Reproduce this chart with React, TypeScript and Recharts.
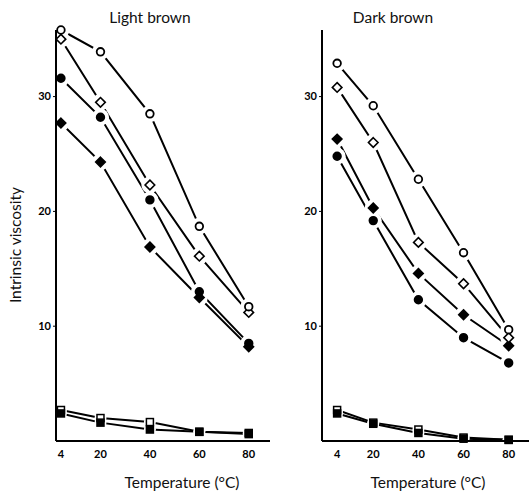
import React from 'react';
import { LineChart, Line, XAxis, YAxis } from 'recharts';

const temps = [4, 20, 40, 60, 80];
const yTicks = [10, 20, 30];

// Light brown
const lightOpenCircle = [35.8, 33.9, 28.5, 18.7, 11.7];
const lightOpenDiamond = [35.0, 29.5, 22.3, 16.1, 11.2];
const lightFilledCircle = [31.6, 28.2, 21.0, 13.0, 8.5];
const lightFilledDiamond = [27.7, 24.3, 16.9, 12.5, 8.2];
const lightOpenSquare = [2.7, 2.0, 1.65, 0.8, 0.7];
const lightFilledSquare = [2.4, 1.6, 1.0, 0.8, 0.6];

// Dark brown
const darkOpenCircle = [32.9, 29.2, 22.8, 16.4, 9.7];
const darkOpenDiamond = [30.8, 26.0, 17.3, 13.7, 9.0];
const darkFilledDiamond = [26.3, 20.3, 14.6, 11.0, 8.3];
const darkFilledCircle = [24.8, 19.2, 12.3, 9.0, 6.8];
const darkOpenSquare = [2.7, 1.6, 1.0, 0.3, 0.1];
const darkFilledSquare = [2.4, 1.5, 0.7, 0.2, 0.1];

const FONT = 'Lato, "DejaVu Sans", sans-serif';

type Shape = 'circle' | 'diamond' | 'square';
type Layer = 'curves' | 'marks' | 'axes';

function makeHalo(shape: Shape) {
  return (props: any) => {
    const { cx, cy, index } = props;
    if (cx == null || cy == null) return <g key={index} />;
    return <circle key={index} cx={cx} cy={cy} r={shape === 'square' ? 6 : 8.5} fill="#ffffff" stroke="none" />;
  };
}

function makeDot(shape: Shape, filled: boolean) {
  return (props: any) => {
    const { cx, cy, index } = props;
    if (cx == null || cy == null) return <g key={index} />;
    const fill = filled ? '#000' : '#fff';
    if (shape === 'circle') {
      return <circle key={index} cx={cx} cy={cy} r={3.8} fill={fill} stroke="#000" strokeWidth={1.8} />;
    }
    if (shape === 'diamond') {
      const s = 4.8;
      return (
        <polygon
          key={index}
          points={`${cx},${cy - s} ${cx + s},${cy} ${cx},${cy + s} ${cx - s},${cy}`}
          fill={fill}
          stroke="#000"
          strokeWidth={1.6}
        />
      );
    }
    return (
      <rect key={index} x={cx - 3.5} y={cy - 3.5} width={7} height={7} fill={fill} stroke="#000" strokeWidth={1.5} />
    );
  };
}

interface Series {
  key: string;
  values: number[];
  shape: Shape;
  filled: boolean;
}

// one panel is drawn as three stacked charts with the same layout:
// lines, then white rings + markers (so lines stop short of points), then axes
function Panel({
  series,
  xDomain,
  width,
  marginLeft,
  layer,
}: {
  series: Series[];
  xDomain: [number, number];
  width: number;
  marginLeft: number;
  layer: Layer;
}) {
  const data = temps.map((t, i) => {
    const row: Record<string, number> = { t };
    series.forEach((s) => {
      row[s.key] = s.values[i];
    });
    return row;
  });

  const showAxes = layer === 'axes';
  const tickStyle = { fill: '#000', fontSize: 11, fontWeight: 700, fontFamily: FONT };

  return (
    <LineChart
      width={width}
      height={494}
      data={data}
      margin={{ top: 30, right: 0, bottom: 33, left: marginLeft - 30 }}
    >
      <XAxis
        dataKey="t"
        type="number"
        domain={xDomain}
        ticks={temps}
        axisLine={showAxes ? { stroke: '#000', strokeWidth: 2 } : false}
        tickLine={false}
        tickMargin={3}
        tick={showAxes ? tickStyle : false}
        height={20}
      />
      <YAxis
        type="number"
        domain={[0, 35.8]}
        ticks={yTicks}
        axisLine={showAxes ? { stroke: '#000', strokeWidth: 2 } : false}
        tickLine={showAxes ? { stroke: '#000', strokeWidth: 1 } : false}
        tickSize={3}
        tickMargin={2}
        tick={showAxes ? tickStyle : false}
        width={30}
      />
      {layer === 'curves' &&
        series.map((s) => (
          <Line
            key={'l' + s.key}
            dataKey={s.key}
            type="linear"
            stroke="#000"
            strokeWidth={2}
            dot={false}
            activeDot={false}
            isAnimationActive={false}
          />
        ))}
      {layer === 'marks' &&
        series.map((s) => (
          <Line
            key={'h' + s.key}
            dataKey={(row: any) => row[s.key]}
            type="linear"
            stroke="#fff"
            strokeOpacity={0}
            dot={makeHalo(s.shape)}
            activeDot={false}
            isAnimationActive={false}
          />
        ))}
      {layer === 'marks' &&
        series.map((s) => (
          <Line
            key={'m' + s.key}
            dataKey={s.key}
            type="linear"
            stroke="#fff"
            strokeOpacity={0}
            dot={makeDot(s.shape, s.filled)}
            activeDot={false}
            isAnimationActive={false}
          />
        ))}
      {layer === 'axes' && (
        <Line
          dataKey={series[0].key}
          stroke="#fff"
          strokeOpacity={0}
          dot={false}
          activeDot={false}
          isAnimationActive={false}
        />
      )}
    </LineChart>
  );
}

export default function App() {
  const lightSeries: Series[] = [
    { key: 'os', values: lightOpenSquare, shape: 'square', filled: false },
    { key: 'fs', values: lightFilledSquare, shape: 'square', filled: true },
    { key: 'fd', values: lightFilledDiamond, shape: 'diamond', filled: true },
    { key: 'fc', values: lightFilledCircle, shape: 'circle', filled: true },
    { key: 'od', values: lightOpenDiamond, shape: 'diamond', filled: false },
    { key: 'oc', values: lightOpenCircle, shape: 'circle', filled: false },
  ];
  const darkSeries: Series[] = [
    { key: 'os', values: darkOpenSquare, shape: 'square', filled: false },
    { key: 'fs', values: darkFilledSquare, shape: 'square', filled: true },
    { key: 'fd', values: darkFilledDiamond, shape: 'diamond', filled: true },
    { key: 'fc', values: darkFilledCircle, shape: 'circle', filled: true },
    { key: 'od', values: darkOpenDiamond, shape: 'diamond', filled: false },
    { key: 'oc', values: darkOpenCircle, shape: 'circle', filled: false },
  ];

  const layers: Layer[] = ['curves', 'marks', 'axes'];

  const label: React.CSSProperties = {
    position: 'absolute',
    fontFamily: FONT,
    fontSize: 15.5,
    color: '#111',
    whiteSpace: 'nowrap',
  };

  return (
    <div
      style={{
        position: 'absolute',
        left: 0,
        top: 0,
        width: 529,
        height: 494,
        background: '#fff',
        overflow: 'hidden',
      }}
    >
      {layers.map((layer) => (
        <div key={'L' + layer} style={{ position: 'absolute', left: 0, top: 0 }}>
          <Panel series={lightSeries} xDomain={[2, 88.6]} width={270} marginLeft={56} layer={layer} />
        </div>
      ))}
      {layers.map((layer) => (
        <div key={'D' + layer} style={{ position: 'absolute', left: 270, top: 0 }}>
          <Panel series={darkSeries} xDomain={[-2.7, 89]} width={259} marginLeft={52} layer={layer} />
        </div>
      ))}
      <div style={{ ...label, left: 150, top: 17, transform: 'translate(-50%, -50%)' }}>Light brown</div>
      <div style={{ ...label, left: 393, top: 17, transform: 'translate(-50%, -50%)' }}>Dark brown</div>
      <div style={{ ...label, left: 182, top: 482, transform: 'translate(-50%, -50%)' }}>Temperature (°C)</div>
      <div style={{ ...label, left: 428, top: 482, transform: 'translate(-50%, -50%)' }}>Temperature (°C)</div>
      <div
        style={{
          ...label,
          left: 15,
          top: 245,
          transform: 'translate(-50%, -50%) rotate(-90deg)',
        }}
      >
        Intrinsic viscosity
      </div>
    </div>
  );
}
